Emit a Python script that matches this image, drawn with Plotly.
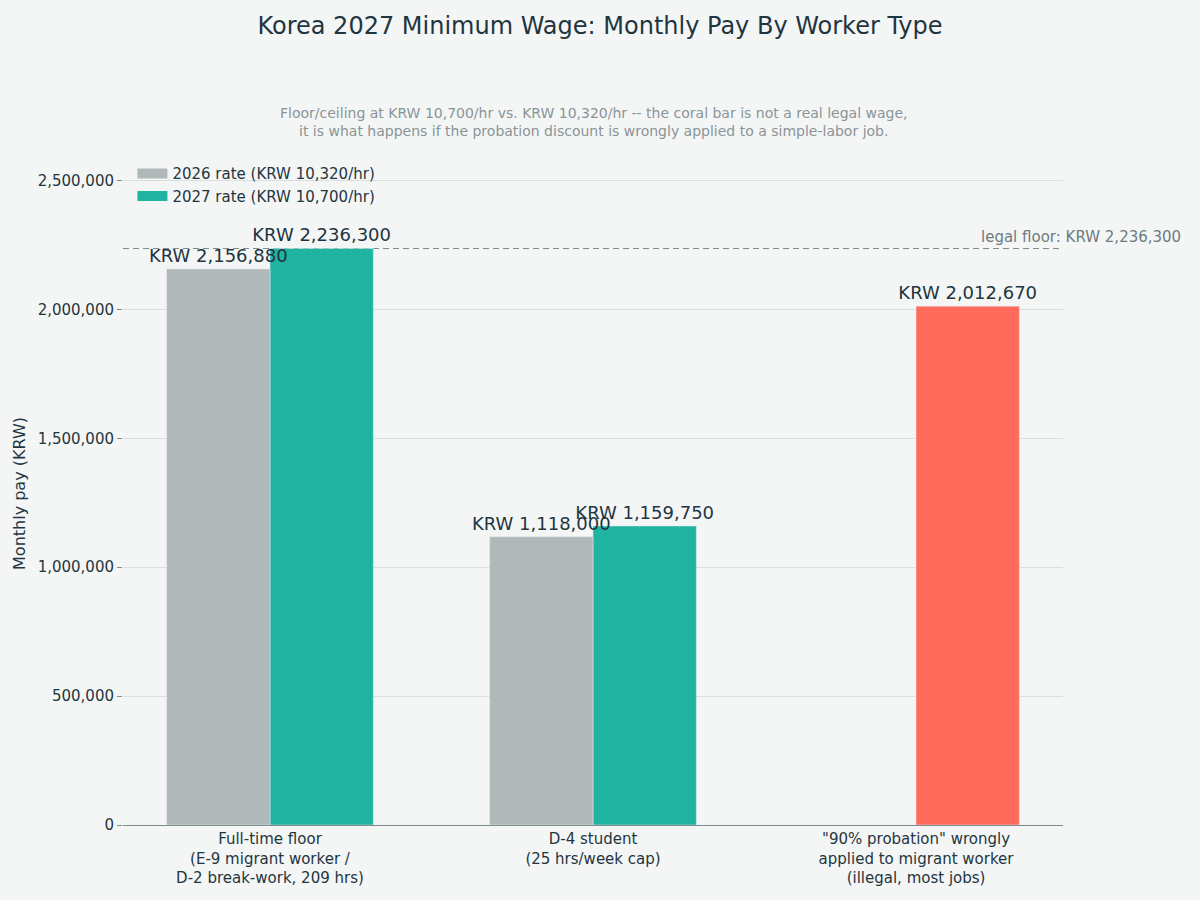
import plotly.graph_objects as go

# worker categories (x axis)
categories = [
    "Full-time floor<br>(E-9 migrant worker /<br>D-2 break-work, 209 hrs)",
    "D-4 student<br>(25 hrs/week cap)",
    "\"90% probation\" wrongly<br>applied to migrant worker<br>(illegal, most jobs)",
]

# monthly pay, KRW
pay_2026 = [2156880, 1118000, None]
pay_2027 = [2236300, 1159750, 2012670]
legal_floor = 2236300

FONT = "DejaVu Sans"
GRAY = "#b0b8b9"
TEAL = "#20b3a1"
CORAL = "#ff6b5b"
TEXT = "#1f3540"
BAR_W = 0.32

bar_colors_2027 = [TEAL, TEAL, CORAL]

fig = go.Figure()

# 2027 drawn first so the 2026 labels sit on top of it
fig.add_trace(go.Bar(
    x=categories,
    y=pay_2027,
    name="2027 rate (KRW 10,700/hr)",
    marker_color=bar_colors_2027,
    width=BAR_W, offset=0,
    text=[f"KRW {v:,}" for v in pay_2027],
    textposition="outside",
    constraintext="none",
    textfont=dict(size=18, color=TEXT),
    cliponaxis=False,
    showlegend=False,
))

fig.add_trace(go.Bar(
    x=categories,
    y=pay_2026,
    name="2026 rate (KRW 10,320/hr)",
    marker_color=GRAY,
    width=BAR_W, offset=-BAR_W,
    text=[f"KRW {v:,}" if v else "" for v in pay_2026],
    textposition="outside",
    constraintext="none",
    textfont=dict(size=18, color=TEXT),
    cliponaxis=False,
    showlegend=False,
))

# legend entries (wide swatches)
for name, col in [("2026 rate (KRW 10,320/hr)", GRAY), ("2027 rate (KRW 10,700/hr)", TEAL)]:
    fig.add_trace(go.Scatter(
        x=[categories[0]], y=[None], mode="lines", name=name,
        line=dict(color=col, width=10), hoverinfo="skip",
    ))

# legal floor line
fig.add_shape(
    type="line", xref="paper", yref="y", layer="between",
    x0=0, x1=1, y0=legal_floor, y1=legal_floor,
    line=dict(color="#7f8c8d", width=1.2, dash="6px,4px"),
)
fig.add_annotation(
    xref="paper", yref="y", x=1.1277, y=legal_floor,
    text=f"legal floor: KRW {legal_floor:,}",
    xanchor="right", yanchor="bottom", showarrow=False,
    font=dict(size=15, color="#6e7b7e"),
)

# subtitle
fig.add_annotation(
    xref="paper", yref="paper", x=0.5, y=1.061,
    text="Floor/ceiling at KRW 10,700/hr vs. KRW 10,320/hr -- the coral bar is not a real legal wage,<br>"
         "it is what happens if the probation discount is wrongly applied to a simple-labor job.",
    showarrow=False, xanchor="center", yanchor="middle",
    font=dict(size=14, color="#8a9496"),
)

fig.update_layout(
    title=dict(
        text="Korea 2027 Minimum Wage: Monthly Pay By Worker Type",
        x=0.5, xanchor="center", y=0.972, yanchor="middle",
        font=dict(size=24, color=TEXT),
    ),
    font=dict(family=FONT, size=14, color=TEXT),
    barmode="overlay",
    paper_bgcolor="#f4f6f6",
    plot_bgcolor="#f4f6f6",
    width=1200,
    height=900,
    margin=dict(l=123, r=137, t=162, b=75),
    legend=dict(
        x=0.01, y=1.007, xanchor="left", yanchor="top",
        bgcolor="rgba(0,0,0,0)", font=dict(size=15, color=TEXT),
        itemwidth=30,
    ),
    xaxis=dict(
        range=[-0.455, 2.455],
        showline=True, linecolor="#7f8c8d", linewidth=1,
        tickfont=dict(size=15, color=TEXT),
        showgrid=False,
    ),
    yaxis=dict(
        title=dict(text="Monthly pay (KRW)", font=dict(size=16, color=TEXT), standoff=8),
        range=[0, legal_floor * 1.15],
        tickformat=",d",
        dtick=500000,
        ticks="outside", ticklen=5, tickcolor="#7f8c8d",
        gridcolor="#d9dede",
        zeroline=False,
        tickfont=dict(size=15, color=TEXT),
    ),
)

fig.write_html("out.html", config={"displayModeBar": False},
               post_script="document.body.style.margin='0';")
